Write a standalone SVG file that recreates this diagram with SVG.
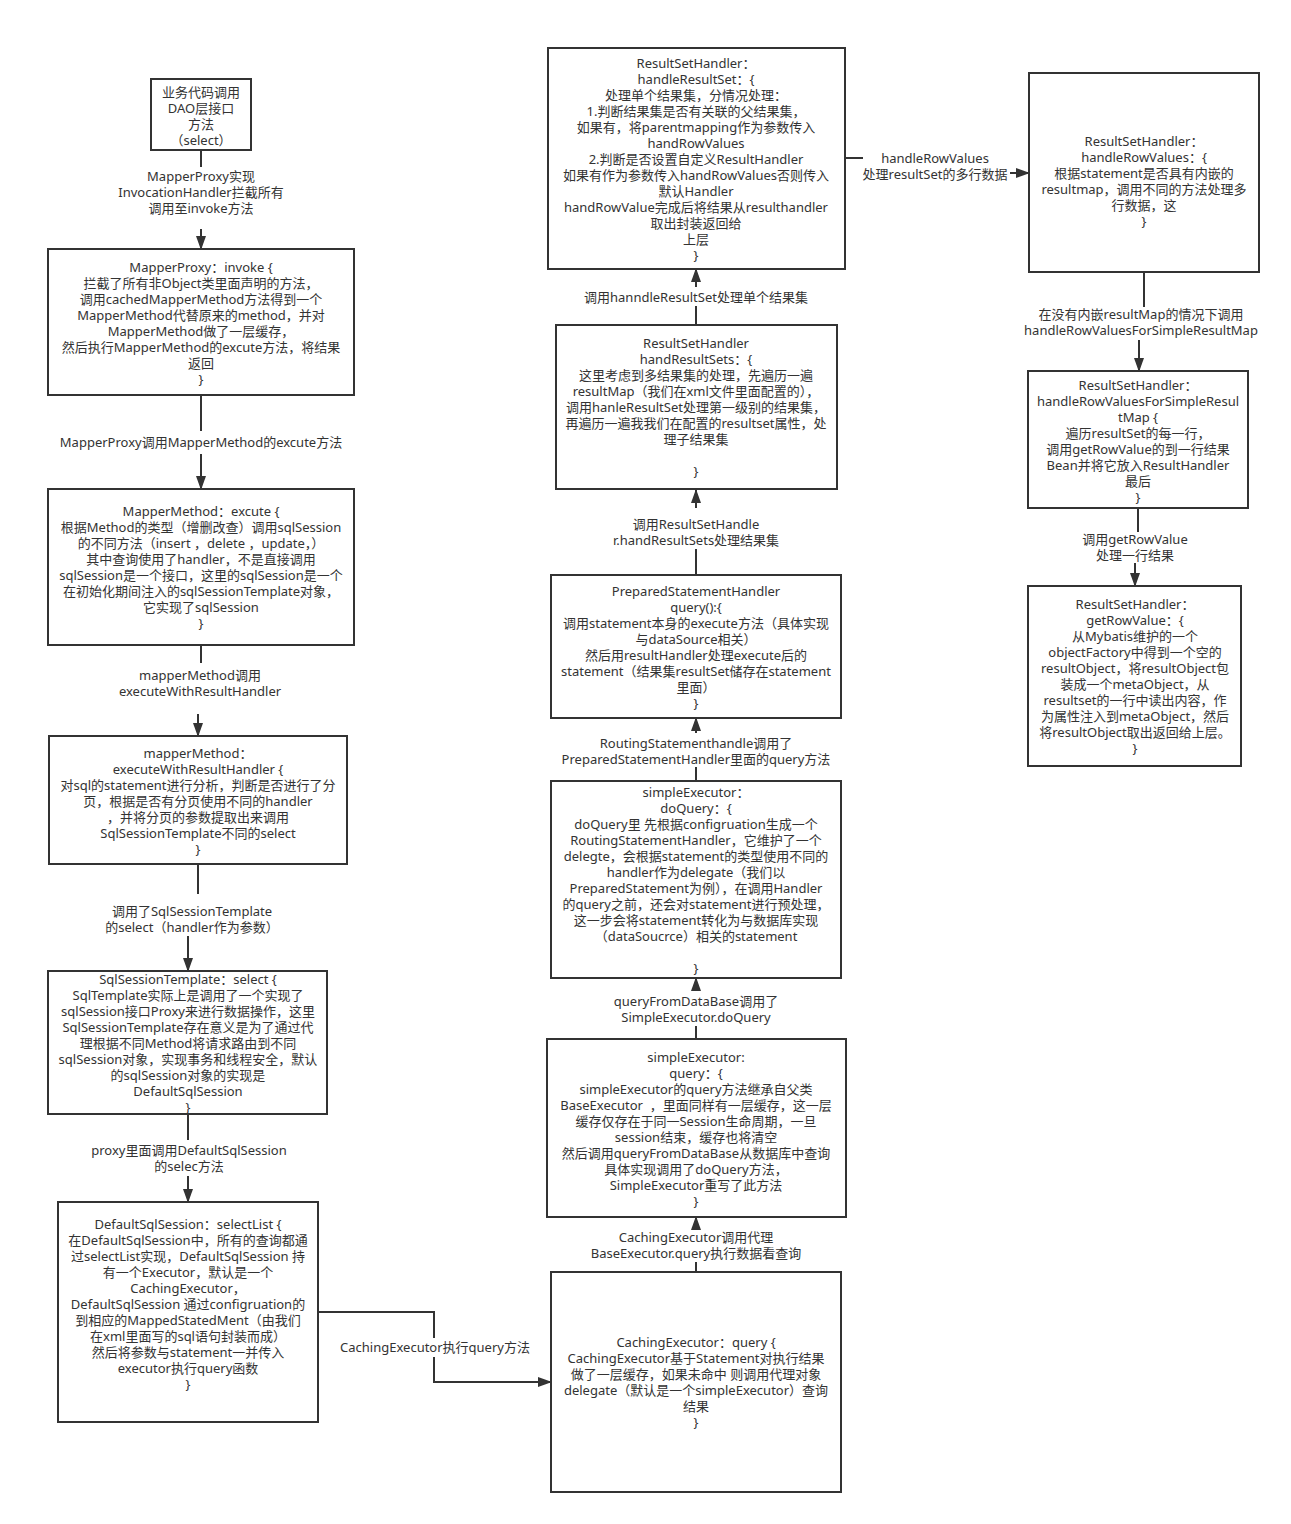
<svg xmlns="http://www.w3.org/2000/svg" width="1291" height="1524" viewBox="0 0 1291 1524">
<style>
.box{fill:#fff;stroke:#333;stroke-width:2}
.t{font-family:"Noto Sans","Noto Sans CJK SC",sans-serif;font-size:13px;fill:#333;text-anchor:middle;dominant-baseline:central;white-space:pre}
.c{fill:none;stroke:#333;stroke-width:2}
</style>
<defs>
<marker id="arr" markerUnits="userSpaceOnUse" markerWidth="14" markerHeight="10" viewBox="0 0 14 10" refX="13" refY="5" orient="auto">
<path d="M0,0 L14,5 L0,10 z" fill="#333"/>
</marker>
</defs>
<rect width="1291" height="1524" fill="#fff"/>

<g id="connectors">
<path class="c" d="M201,150 V167 M201,229 V249" marker-end="url(#arr)"/>
<path class="c" d="M201,395 V431 M201,454 V489" marker-end="url(#arr)"/>
<path class="c" d="M201,645 V663 M198,714 V736" marker-end="url(#arr)"/>
<path class="c" d="M198,864 V894 M188,936 V971" marker-end="url(#arr)"/>
<path class="c" d="M188,1114 V1140 M188,1176 V1202" marker-end="url(#arr)"/>
<path class="c" d="M318,1312 H434 V1338 M434,1357 V1382 H551" marker-end="url(#arr)"/>
<path class="c" d="M696,1272 V1262 M696,1230 V1217" marker-end="url(#arr)"/>
<path class="c" d="M696,1039 V1026 M696,991 V978" marker-end="url(#arr)"/>
<path class="c" d="M696,781 V767 M696,733 V718" marker-end="url(#arr)"/>
<path class="c" d="M696,575 V549 M696,508 V490" marker-end="url(#arr)"/>
<path class="c" d="M696,325 V306 M696,287 V269" marker-end="url(#arr)"/>
<path class="c" d="M845,158 H863 M1010,173 H1029" marker-end="url(#arr)"/>
<path class="c" d="M1144,272 V307 M1139,340 V371" marker-end="url(#arr)"/>
<path class="c" d="M1138,508 V532 M1135,563 V586" marker-end="url(#arr)"/>
</g>

<g id="labels">
<text class="t"><tspan x="201" y="176">MapperProxy实现</tspan><tspan x="201" y="192">InvocationHandler拦截所有</tspan><tspan x="201" y="208">调用至invoke方法</tspan></text>
<text class="t"><tspan x="201" y="442">MapperProxy调用MapperMethod的excute方法</tspan></text>
<text class="t"><tspan x="200" y="675">mapperMethod调用</tspan><tspan x="200" y="691">executeWithResultHandler</tspan></text>
<text class="t"><tspan x="192" y="911">调用了SqlSessionTemplate</tspan><tspan x="192" y="927">的select（handler作为参数）</tspan></text>
<text class="t"><tspan x="189" y="1150">proxy里面调用DefaultSqlSession</tspan><tspan x="189" y="1166">的selec方法</tspan></text>
<text class="t"><tspan x="435" y="1347">CachingExecutor执行query方法</tspan></text>
<text class="t"><tspan x="696" y="1237">CachingExecutor调用代理</tspan><tspan x="696" y="1253">BaseExecutor.query执行数据看查询</tspan></text>
<text class="t"><tspan x="696" y="1001">queryFromDataBase调用了</tspan><tspan x="696" y="1017">SimpleExecutor.doQuery</tspan></text>
<text class="t"><tspan x="696" y="743">RoutingStatementhandle调用了</tspan><tspan x="696" y="759">PreparedStatementHandler里面的query方法</tspan></text>
<text class="t"><tspan x="696" y="524">调用ResultSetHandle</tspan><tspan x="696" y="540">r.handResultSets处理结果集</tspan></text>
<text class="t"><tspan x="696" y="297">调用hanndleResultSet处理单个结果集</tspan></text>
<text class="t"><tspan x="935" y="158">handleRowValues</tspan><tspan x="935" y="174">处理resultSet的多行数据</tspan></text>
<text class="t"><tspan x="1141" y="314">在没有内嵌resultMap的情况下调用</tspan><tspan x="1141" y="330">handleRowValuesForSimpleResultMap</tspan></text>
<text class="t"><tspan x="1135" y="539">调用getRowValue</tspan><tspan x="1135" y="555">处理一行结果</tspan></text>
</g>

<g id="n1">
<rect class="box" x="151" y="79" width="100" height="71"/>
<text class="t"><tspan x="201" y="92">业务代码调用</tspan><tspan x="201" y="108">DAO层接口</tspan><tspan x="201" y="124">方法</tspan><tspan x="201" y="140">（select）</tspan></text>
</g>

<g id="n2">
<rect class="box" x="48" y="249" width="306" height="146"/>
<text class="t"><tspan x="201" y="267">MapperProxy：invoke {</tspan><tspan x="201" y="283">拦截了所有非Object类里面声明的方法，</tspan><tspan x="201" y="299">调用cachedMapperMethod方法得到一个</tspan><tspan x="201" y="315">MapperMethod代替原来的method，并对</tspan><tspan x="201" y="331">MapperMethod做了一层缓存，</tspan><tspan x="201" y="347">然后执行MapperMethod的excute方法，将结果</tspan><tspan x="201" y="363">返回</tspan><tspan x="201" y="379">}</tspan></text>
</g>

<g id="n3">
<rect class="box" x="48" y="489" width="306" height="156"/>
<text class="t"><tspan x="201" y="511">MapperMethod：excute {</tspan><tspan x="201" y="527">根据Method的类型（增删改查）调用sqlSession</tspan><tspan x="201" y="543">的不同方法（insert ，delete ，update，）</tspan><tspan x="201" y="559">其中查询使用了handler，不是直接调用</tspan><tspan x="201" y="575">sqlSession是一个接口，这里的sqlSession是一个</tspan><tspan x="201" y="591">在初始化期间注入的sqlSessionTemplate对象，</tspan><tspan x="201" y="607">它实现了sqlSession</tspan><tspan x="201" y="623">}</tspan></text>
</g>

<g id="n4">
<rect class="box" x="49" y="736" width="298" height="128"/>
<text class="t"><tspan x="198" y="753">mapperMethod：</tspan><tspan x="198" y="769">executeWithResultHandler {</tspan><tspan x="198" y="785">对sql的statement进行分析，判断是否进行了分</tspan><tspan x="198" y="801">页，根据是否有分页使用不同的handler</tspan><tspan x="198" y="817">，并将分页的参数提取出来调用</tspan><tspan x="198" y="833">SqlSessionTemplate不同的select</tspan><tspan x="198" y="849">}</tspan></text>
</g>

<g id="n5">
<rect class="box" x="48" y="971" width="279" height="143"/>
<text class="t"><tspan x="188" y="979">SqlSessionTemplate：select {</tspan><tspan x="188" y="995">SqlTemplate实际上是调用了一个实现了</tspan><tspan x="188" y="1011">sqlSession接口Proxy来进行数据操作，这里</tspan><tspan x="188" y="1027">SqlSessionTemplate存在意义是为了通过代</tspan><tspan x="188" y="1043">理根据不同Method将请求路由到不同</tspan><tspan x="188" y="1059">sqlSession对象，实现事务和线程安全，默认</tspan><tspan x="188" y="1075">的sqlSession对象的实现是</tspan><tspan x="188" y="1091">DefaultSqlSession</tspan><tspan x="188" y="1107">}</tspan></text>
</g>

<g id="n6">
<rect class="box" x="58" y="1202" width="260" height="220"/>
<text class="t"><tspan x="188" y="1224">DefaultSqlSession：selectList {</tspan><tspan x="188" y="1240">在DefaultSqlSession中，所有的查询都通</tspan><tspan x="188" y="1256">过selectList实现，DefaultSqlSession 持</tspan><tspan x="188" y="1272">有一个Executor，默认是一个</tspan><tspan x="188" y="1288">CachingExecutor，</tspan><tspan x="188" y="1304">DefaultSqlSession 通过configruation的</tspan><tspan x="188" y="1320">到相应的MappedStatedMent（由我们</tspan><tspan x="188" y="1336">在xml里面写的sql语句封装而成）</tspan><tspan x="188" y="1352">然后将参数与statement一并传入</tspan><tspan x="188" y="1368">executor执行query函数</tspan><tspan x="188" y="1384">}</tspan></text>
</g>

<g id="n7">
<rect class="box" x="551" y="1272" width="290" height="220"/>
<text class="t"><tspan x="696" y="1342">CachingExecutor：query {</tspan><tspan x="696" y="1358">CachingExecutor基于Statement对执行结果</tspan><tspan x="696" y="1374">做了一层缓存，如果未命中 则调用代理对象</tspan><tspan x="696" y="1390">delegate（默认是一个simpleExecutor）查询</tspan><tspan x="696" y="1406">结果</tspan><tspan x="696" y="1422">}</tspan></text>
</g>

<g id="n8">
<rect class="box" x="547" y="1039" width="299" height="178"/>
<text class="t"><tspan x="696" y="1057">simpleExecutor:</tspan><tspan x="696" y="1073">query：{</tspan><tspan x="696" y="1089">simpleExecutor的query方法继承自父类</tspan><tspan x="696" y="1105">BaseExecutor  ，里面同样有一层缓存，这一层</tspan><tspan x="696" y="1121">缓存仅存在于同一Session生命周期，一旦</tspan><tspan x="696" y="1137">session结束，缓存也将清空</tspan><tspan x="696" y="1153">然后调用queryFromDataBase从数据库中查询</tspan><tspan x="696" y="1169">具体实现调用了doQuery方法，</tspan><tspan x="696" y="1185">SimpleExecutor重写了此方法</tspan><tspan x="696" y="1201">}</tspan></text>
</g>

<g id="n9">
<rect class="box" x="551" y="781" width="290" height="197"/>
<text class="t"><tspan x="696" y="792">simpleExecutor：</tspan><tspan x="696" y="808">doQuery：{</tspan><tspan x="696" y="824">doQuery里 先根据configruation生成一个</tspan><tspan x="696" y="840">RoutingStatementHandler，它维护了一个</tspan><tspan x="696" y="856">delegte，会根据statement的类型使用不同的</tspan><tspan x="696" y="872">handler作为delegate（我们以</tspan><tspan x="696" y="888">PreparedStatement为例），在调用Handler</tspan><tspan x="696" y="904">的query之前，还会对statement进行预处理，</tspan><tspan x="696" y="920">这一步会将statement转化为与数据库实现</tspan><tspan x="696" y="936">（dataSoucrce）相关的statement</tspan><tspan x="696" y="968">}</tspan></text>
</g>

<g id="n10">
<rect class="box" x="551" y="575" width="290" height="143"/>
<text class="t"><tspan x="696" y="591">PreparedStatementHandler</tspan><tspan x="696" y="607">query():{</tspan><tspan x="696" y="623">调用statement本身的execute方法（具体实现</tspan><tspan x="696" y="639">与dataSource相关）</tspan><tspan x="696" y="655">然后用resultHandler处理execute后的</tspan><tspan x="696" y="671">statement（结果集resultSet储存在statement</tspan><tspan x="696" y="687">里面）</tspan><tspan x="696" y="703">}</tspan></text>
</g>

<g id="n11">
<rect class="box" x="556" y="325" width="281" height="164"/>
<text class="t"><tspan x="696" y="343">ResultSetHandler</tspan><tspan x="696" y="359">handResultSets：{</tspan><tspan x="696" y="375">这里考虑到多结果集的处理，先遍历一遍</tspan><tspan x="696" y="391">resultMap（我们在xml文件里面配置的），</tspan><tspan x="696" y="407">调用hanleResultSet处理第一级别的结果集，</tspan><tspan x="696" y="423">再遍历一遍我我们在配置的resultset属性，处</tspan><tspan x="696" y="439">理子结果集</tspan><tspan x="696" y="471">}</tspan></text>
</g>

<g id="n12">
<rect class="box" x="548" y="48" width="297" height="221"/>
<text class="t"><tspan x="696" y="63">ResultSetHandler：</tspan><tspan x="696" y="79">handleResultSet：{</tspan><tspan x="696" y="95">处理单个结果集，分情况处理：</tspan><tspan x="696" y="111">1.判断结果集是否有关联的父结果集，</tspan><tspan x="696" y="127">如果有，将parentmapping作为参数传入</tspan><tspan x="696" y="143">handRowValues</tspan><tspan x="696" y="159">2.判断是否设置自定义ResultHandler</tspan><tspan x="696" y="175">如果有作为参数传入handRowValues否则传入</tspan><tspan x="696" y="191">默认Handler</tspan><tspan x="696" y="207">handRowValue完成后将结果从resulthandler</tspan><tspan x="696" y="223">取出封装返回给</tspan><tspan x="696" y="239">上层</tspan><tspan x="696" y="255">}</tspan></text>
</g>

<g id="n13">
<rect class="box" x="1029" y="73" width="230" height="199"/>
<text class="t"><tspan x="1144" y="141">ResultSetHandler：</tspan><tspan x="1144" y="157">handleRowValues：{</tspan><tspan x="1144" y="173">根据statement是否具有内嵌的</tspan><tspan x="1144" y="189">resultmap，调用不同的方法处理多</tspan><tspan x="1144" y="205">行数据，这</tspan><tspan x="1144" y="221">}</tspan></text>
</g>

<g id="n14">
<rect class="box" x="1028" y="371" width="220" height="137"/>
<text class="t"><tspan x="1138" y="385">ResultSetHandler：</tspan><tspan x="1138" y="401">handleRowValuesForSimpleResul</tspan><tspan x="1138" y="417">tMap {</tspan><tspan x="1138" y="433">遍历resultSet的每一行，</tspan><tspan x="1138" y="449">调用getRowValue的到一行结果</tspan><tspan x="1138" y="465">Bean并将它放入ResultHandler</tspan><tspan x="1138" y="481">最后</tspan><tspan x="1138" y="497">}</tspan></text>
</g>

<g id="n15">
<rect class="box" x="1028" y="586" width="213" height="180"/>
<text class="t"><tspan x="1135" y="604">ResultSetHandler：</tspan><tspan x="1135" y="620">getRowValue：{</tspan><tspan x="1135" y="636">从Mybatis维护的一个</tspan><tspan x="1135" y="652">objectFactory中得到一个空的</tspan><tspan x="1135" y="668">resultObject，将resultObject包</tspan><tspan x="1135" y="684">装成一个metaObject，从</tspan><tspan x="1135" y="700">resultset的一行中读出内容，作</tspan><tspan x="1135" y="716">为属性注入到metaObject，然后</tspan><tspan x="1135" y="732">将resultObject取出返回给上层。</tspan><tspan x="1135" y="748">}</tspan></text>
</g>
</svg>
